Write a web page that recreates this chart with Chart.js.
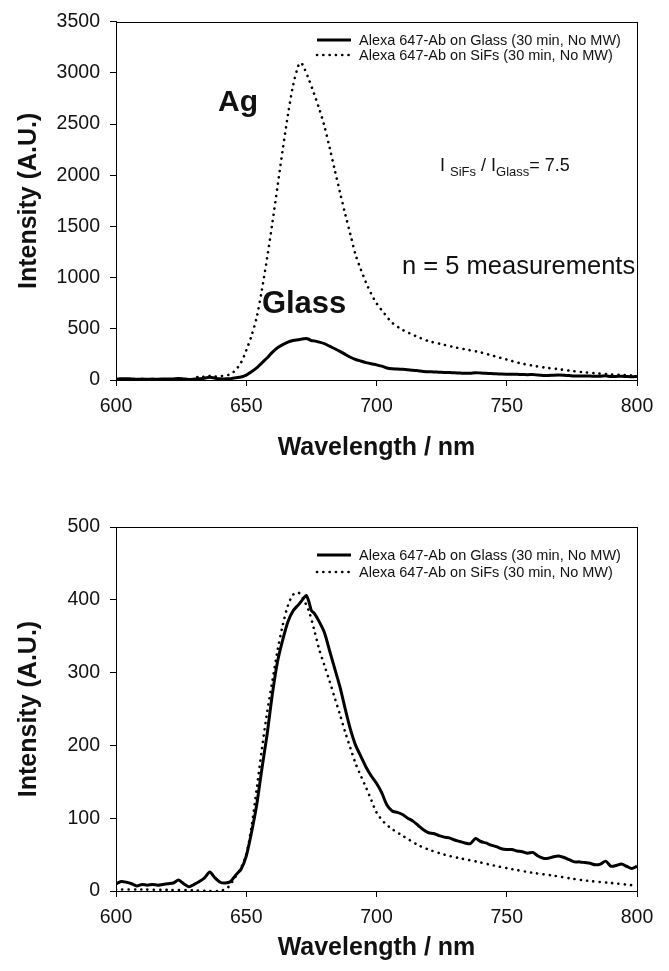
<!DOCTYPE html>
<html>
<head>
<meta charset="utf-8">
<script src="https://cdn.jsdelivr.net/npm/chart.js@4.4.1/dist/chart.umd.min.js"></script>
<style>
  html, body { margin: 0; padding: 0; background: #fff; }
  #wrap { position: relative; width: 669px; height: 971px; }
  #c1 { position: absolute; left: 0; top: 0; }
  #c2 { position: absolute; left: 0; top: 480px; }
</style>
</head>
<body>
<div id="wrap">
  <canvas id="c1" width="669" height="480"></canvas>
  <canvas id="c2" width="669" height="491"></canvas>
</div>
<script>
// ---------------- data ----------------
const seriesLabels = ['Alexa 647-Ab on Glass (30 min, No MW)', 'Alexa 647-Ab on SiFs (30 min, No MW)'];
const xTicks = [600, 650, 700, 750, 800];
const topYTicks = [0, 500, 1000, 1500, 2000, 2500, 3000, 3500];
const bottomYTicks = [0, 100, 200, 300, 400, 500];

// Glass (solid) spectrum, wavelength (nm) and intensity (A.U.)
const glassWavelength = [600,602,604,606,608,610,612,614,616,618,620,622,624,626,628,630,632,634,636,638,640,642,644,646,648,650,652,654,656,658,660,662,664,666,668,670,672,673,674,675,676,678,680,682,684,686,688,690,692,694,696,698,700,702,704,706,708,710,712,714,716,718,720,722,724,726,728,730,732,734,736,738,740,742,744,746,748,750,752,754,756,758,760,762,764,766,768,770,772,774,776,778,780,782,784,786,788,790,792,794,796,798,800];
const glassIntensity = [10,13,12,10,7,9,8,9,8,9,10,11,15,10,6,9,13,18,26,18,12,11,13,22,30,48,80,118,168,215,270,315,345,370,385,393,402,406,398,385,382,370,355,330,305,280,250,222,200,185,170,158,148,135,118,110,108,105,100,96,90,84,80,79,76,74,73,70,68,66,65,72,68,66,63,61,58,57,57,55,54,52,53,48,45,45,47,48,46,43,40,40,39,38,36,37,41,34,35,37,34,31,34];

// SiFs (dotted) spectrum, actual intensity (top panel)
const sifsWavelength = [600,610,620,628,630,632,634,636,638,640,642,644,646,648,650,652,654,656,658,660,662,664,666,668,670,671,672,674,676,678,680,682,684,686,688,690,692,694,696,698,700,703,706,710,715,720,725,730,735,740,745,750,755,760,765,770,775,780,785,790,795,800];
const sifsIntensity = [0,0,0,2,8,38,30,40,34,38,44,57,100,170,290,430,610,880,1190,1530,1890,2250,2590,2880,3070,3100,3060,2940,2800,2650,2480,2270,2050,1830,1620,1420,1220,1080,950,840,750,650,560,490,430,380,350,320,295,270,235,200,165,140,120,105,88,75,64,55,48,42];

// SiFs (dotted) spectrum normalised to the Glass peak (bottom panel)
const sifsNormWavelength = [600,610,620,630,635,640,643,645,648,650,652,654,656,658,660,662,664,666,668,670,672,674,676,678,680,682,684,686,688,690,692,694,696,698,700,703,706,710,716,720,726,732,739,745,752,760,768,775,781,790,798,800];
const sifsNormIntensity = [2,2,1.5,1,0,0,5,15,32,50,88,140,195,245,288,330,365,392,407,410,400,385,360,332,310,288,265,242,218,196,175,158,142,125,108,94,85,76,63,57,50,45,40,35,30,25,21,17,14,11,8,7];

const toPoints = (xs, ys) => xs.map((x, i) => ({ x: x, y: ys[i] }));

// ---------------- drawing helpers ----------------
const FONT = '"Liberation Sans", Arial, Helvetica, sans-serif';

const decorPlugin = {
  id: 'decor',
  afterDraw(chart, args, opts) {
    const { ctx, chartArea: a, scales } = chart;
    ctx.save();
    // frame
    ctx.strokeStyle = '#000';
    ctx.lineWidth = 1;
    ctx.setLineDash([]);
    ctx.strokeRect(Math.round(a.left) + 0.5, Math.round(a.top) + 0.5, Math.round(a.right - a.left), Math.round(a.bottom - a.top));
    // legend (inside plot area)
    chart.data.datasets.forEach((ds, i) => {
      const y = opts.legendY[i];
      ctx.beginPath();
      ctx.setLineDash(ds.borderDash || []);
      ctx.lineCap = ds.borderCapStyle || 'butt';
      ctx.lineWidth = ds.borderWidth;
      ctx.strokeStyle = ds.borderColor;
      ctx.moveTo(opts.legendX, y);
      ctx.lineTo(opts.legendX + 34, y);
      ctx.stroke();
      ctx.setLineDash([]);
      ctx.fillStyle = '#111';
      ctx.font = '14.5px ' + FONT;
      ctx.textAlign = 'left';
      ctx.textBaseline = 'middle';
      ctx.fillText(ds.label, opts.legendX + 42, y + 0.5);
    });
    // annotations in data coordinates
    (opts.notes || []).forEach(n => {
      const px = scales.x.getPixelForValue(n.x);
      const py = scales.y.getPixelForValue(n.y);
      ctx.fillStyle = '#111';
      ctx.textAlign = 'left';
      ctx.textBaseline = 'alphabetic';
      if (n.parts) {
        let cx = px;
        n.parts.forEach(p => {
          ctx.font = (p.sub ? n.subSize : n.size) + 'px ' + FONT;
          ctx.fillText(p.t, cx, py + (p.sub ? n.subShift : 0));
          cx += ctx.measureText(p.t).width;
        });
      } else {
        ctx.font = (n.bold ? 'bold ' : '') + n.size + 'px ' + FONT;
        ctx.fillText(n.text, px, py);
      }
    });
    ctx.restore();
  }
};

function makeOptions(yMax, yTickList, padTop, xAxisHeight, xTitlePad, legendY, notes) {
  return {
    responsive: false,
    animation: false,
    layout: { padding: { top: padTop, right: 32, left: 0, bottom: 0 } },
    plugins: {
      legend: { display: false },
      tooltip: { enabled: false },
      decor: { legendX: 317, legendY: legendY, notes: notes }
    },
    elements: { point: { radius: 0 } },
    scales: {
      x: {
        type: 'linear',
        min: xTicks[0], max: xTicks[xTicks.length - 1],
        afterBuildTicks: s => { s.ticks = xTicks.map(v => ({ value: v })); },
        afterFit: s => { s.height = xAxisHeight; },
        grid: { display: true, drawOnChartArea: false, drawTicks: true, tickLength: 6, color: '#000', lineWidth: 1 },
        border: { display: true, color: '#000', width: 1 },
        ticks: { color: '#111', padding: 9, font: { family: FONT, size: 19.5 }, callback: v => String(v) },
        title: { display: true, text: 'Wavelength / nm', color: '#111',
                 font: { family: FONT, size: 25, weight: 'bold' }, padding: { top: 0, bottom: xTitlePad } }
      },
      y: {
        type: 'linear',
        min: 0, max: yMax,
        afterBuildTicks: s => { s.ticks = yTickList.map(v => ({ value: v })); },
        afterFit: s => { s.width = 116; },
        grid: { display: true, drawOnChartArea: false, drawTicks: true, tickLength: 6, color: '#000', lineWidth: 1 },
        border: { display: true, color: '#000', width: 1 },
        ticks: { color: '#111', padding: 10, font: { family: FONT, size: 19.5 }, callback: v => String(v) },
        title: { display: true, text: 'Intensity (A.U.)', color: '#111',
                 font: { family: FONT, size: 25, weight: 'bold' }, padding: { top: 14, bottom: 0 } }
      }
    }
  };
}

const solidStyle = { borderColor: '#000', borderWidth: 3, borderDash: [], borderCapStyle: 'butt', tension: 0.25, fill: false };
const dotStyle = { borderColor: '#000', borderWidth: 2.6, borderDash: [0.1, 6.2], borderCapStyle: 'round', tension: 0.3, fill: false };

// ---------------- top chart ----------------
new Chart(document.getElementById('c1'), {
  type: 'line',
  data: {
    datasets: [
      Object.assign({ label: seriesLabels[0], data: toPoints(glassWavelength, glassIntensity) }, solidStyle),
      Object.assign({ label: seriesLabels[1], data: toPoints(sifsWavelength, sifsIntensity) }, dotStyle)
    ]
  },
  options: makeOptions(3500, topYTicks, 16, 100, 17, [40, 55], [
    { text: 'Ag', x: 639.2, y: 2625, size: 30, bold: true },
    { text: 'Glass', x: 656, y: 654, size: 31, bold: true },
    { text: 'n = 5 measurements', x: 709.8, y: 1038, size: 25.5, bold: false },
    { parts: [{ t: 'I ' }, { t: 'SiFs', sub: true }, { t: ' / I' }, { t: 'Glass', sub: true }, { t: '= 7.5' }],
      x: 724.4, y: 2038, size: 18, subSize: 13, subShift: 5 }
  ]),
  plugins: [decorPlugin]
});

// ---------------- bottom chart ----------------
new Chart(document.getElementById('c2'), {
  type: 'line',
  data: {
    datasets: [
      Object.assign({ label: seriesLabels[0], data: toPoints(glassWavelength, glassIntensity) }, solidStyle),
      Object.assign({ label: seriesLabels[1], data: toPoints(sifsNormWavelength, sifsNormIntensity) }, dotStyle)
    ]
  },
  options: makeOptions(500, bottomYTicks, 47, 80, 8, [75, 92], []),
  plugins: [decorPlugin]
});
</script>
</body>
</html>
